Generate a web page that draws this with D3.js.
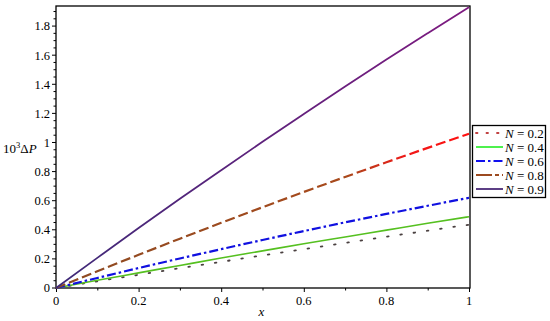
<!DOCTYPE html>
<html>
<head>
<meta charset="utf-8">
<script src="https://cdn.jsdelivr.net/npm/d3@7"></script>
<style>
body { margin: 0; background: #fff; }
</style>
</head>
<body>
<div id="chart"></div>
<script>
// values
var xs = [0, 0.1, 0.2, 0.3, 0.4, 0.5, 0.6, 0.7, 0.8, 0.9, 1];
var n02 = [0, 0.046, 0.091, 0.136, 0.180, 0.224, 0.267, 0.310, 0.352, 0.394, 0.435];
var n04 = [0, 0.053, 0.104, 0.155, 0.206, 0.255, 0.304, 0.351, 0.398, 0.445, 0.490];
var n06 = [0, 0.069, 0.137, 0.203, 0.267, 0.330, 0.391, 0.451, 0.509, 0.565, 0.620];
var n08 = [0, 0.115, 0.228, 0.339, 0.448, 0.555, 0.660, 0.763, 0.864, 0.963, 1.060];
var n09 = [0, 0.207, 0.412, 0.613, 0.810, 1.005, 1.196, 1.385, 1.570, 1.751, 1.930];
var names = ["0.2", "0.4", "0.6", "0.8", "0.9"];
var xTicks = [0, 0.2, 0.4, 0.6, 0.8, 1];
var yTicks = [0, 0.2, 0.4, 0.6, 0.8, 1, 1.2, 1.4, 1.6, 1.8];

var width = 550, height = 321;
var x = d3.scaleLinear().domain([0, 1]).range([56, 469]);
var y = d3.scaleLinear().domain([0, 1.938]).range([288, 6]);

var svg = d3.select("#chart").append("svg")
	.attr("width", width)
	.attr("height", height)
	.attr("font-family", "'Liberation Serif', 'Times New Roman', Times, serif");

var defs = svg.append("defs");
function grad(id, stops) {
	var g = defs.append("linearGradient")
		.attr("id", id)
		.attr("gradientUnits", "userSpaceOnUse")
		.attr("x1", x(0)).attr("x2", x(1))
		.attr("y1", 0).attr("y2", 0);
	stops.forEach(function(s) {
		g.append("stop").attr("offset", s[0]).attr("stop-color", s[1]);
	});
}
grad("g08", [["0%", "#8c4a22"], ["70%", "#a84a1c"], ["85%", "#f01818"], ["100%", "#ff1010"]]);
grad("g09", [["0%", "#3e2a78"], ["100%", "#7e1a80"]]);

var series = [
	{ vals: n02, stroke: "#4a4040", dash: "1.6,11.8", width: 1.8, cap: "round", legend: "#c04040", legendDash: "1.5,9" },
	{ vals: n04, stroke: "#55c020", dash: null, width: 1.6, legend: "#22ee22" },
	{ vals: n06, stroke: "#1010e0", dash: "9,3,2.5,3", width: 2.2, legend: "#1010ee" },
	{ vals: n08, stroke: "url(#g08)", dash: "10,4", width: 2.2, legend: "#9c4a20", legendDash: "16,3,4,3" },
	{ vals: n09, stroke: "url(#g09)", dash: null, width: 1.8, legend: "#4a2a78" }
];

// frame
svg.append("rect")
	.attr("x", x(0)).attr("y", y.range()[1])
	.attr("width", x(1) - x(0) + 1)
	.attr("height", y(0) - y.range()[1])
	.attr("fill", "none")
	.attr("stroke", "#000")
	.attr("stroke-width", 1.3);

// x axis
var xAxis = d3.axisBottom(x)
	.tickValues(d3.range(0, 1.001, 0.1))
	.tickSize(0)
	.tickFormat("");
var gx = svg.append("g").attr("transform", "translate(0," + y(0) + ")").call(xAxis);
gx.select(".domain").remove();
gx.selectAll(".tick").append("line")
	.attr("y2", function(d, i) { return i % 2 == 0 ? 4 : 2.5; })
	.attr("stroke", "#000");
svg.append("g").selectAll("text")
	.data(xTicks)
	.enter().append("text")
	.attr("x", function(d) { return x(d); })
	.attr("y", 305)
	.attr("text-anchor", "middle")
	.attr("font-size", 12.5)
	.text(function(d) { return d; });

// y axis
var gy = svg.append("g").attr("transform", "translate(" + x(0) + ",0)");
gy.selectAll("line")
	.data(d3.range(0, 1.93, 0.05))
	.enter().append("line")
	.attr("x1", function(d, i) { return i % 4 == 0 ? -4 : -2.5; })
	.attr("x2", 0)
	.attr("y1", function(d) { return y(d); })
	.attr("y2", function(d) { return y(d); })
	.attr("stroke", "#000");
gy.selectAll("text")
	.data(yTicks)
	.enter().append("text")
	.attr("x", -6)
	.attr("y", function(d) { return y(d); })
	.attr("dy", "0.35em")
	.attr("text-anchor", "end")
	.attr("font-size", 12.5)
	.text(function(d) { return d; });

// axis titles
var yl = svg.append("text")
	.attr("x", 3)
	.attr("y", 153)
	.attr("font-size", 13);
yl.append("tspan").text("10");
yl.append("tspan").attr("font-size", 8.5).attr("dy", -5).text("3");
yl.append("tspan").attr("dy", 5).text("\u0394");
yl.append("tspan").attr("font-style", "italic").text("P");

svg.append("text")
	.attr("x", x(0.5) - 1)
	.attr("y", 316)
	.attr("text-anchor", "middle")
	.attr("font-size", 13)
	.attr("font-style", "italic")
	.text("x");

// curves
var line = d3.line()
	.x(function(d, i) { return x(xs[i]); })
	.y(function(d) { return y(d); })
	.curve(d3.curveMonotoneX);

svg.append("g").selectAll("path")
	.data(series)
	.enter().append("path")
	.attr("d", function(d) { return line(d.vals); })
	.attr("fill", "none")
	.attr("stroke", function(d) { return d.stroke; })
	.attr("stroke-width", function(d) { return d.width; })
	.attr("stroke-linecap", function(d) { return d.cap || "butt"; })
	.attr("stroke-dasharray", function(d) { return d.dash; });

// legend
var lg = svg.append("g");
lg.append("rect")
	.attr("x", 472.5).attr("y", 125.5)
	.attr("width", 73).attr("height", 72)
	.attr("fill", "#fff")
	.attr("stroke", "#000")
	.attr("stroke-width", 1.3);
var row = lg.selectAll("g.row")
	.data(series)
	.enter().append("g")
	.attr("class", "row")
	.attr("transform", function(d, i) { return "translate(0," + (133 + i * 14) + ")"; });
row.append("line")
	.attr("x1", 476).attr("x2", 503)
	.attr("stroke", function(d) { return d.legend; })
	.attr("stroke-width", function(d) { return d.width; })
	.attr("stroke-linecap", function(d) { return d.cap || "butt"; })
	.attr("stroke-dasharray", function(d) { return d.legendDash || d.dash; });
var lt = row.append("text")
	.attr("x", 505)
	.attr("dy", "0.35em")
	.attr("font-size", 13);
lt.append("tspan").attr("font-style", "italic").text("N");
lt.append("tspan").text(function(d, i) { return " = " + names[i]; });
</script>
</body>
</html>
